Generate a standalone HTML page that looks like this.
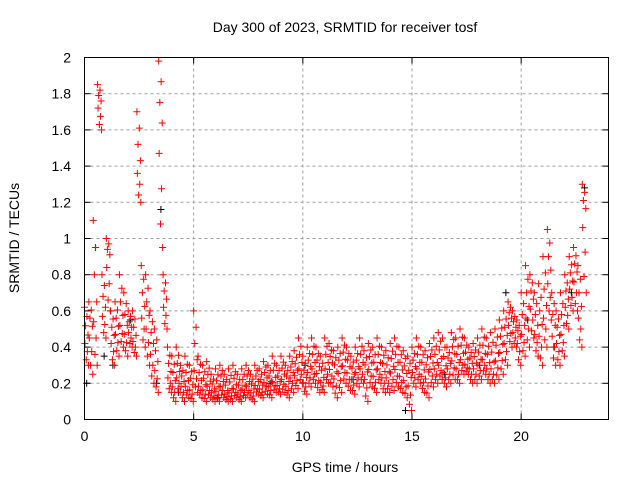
<!DOCTYPE html>
<html><head><meta charset="utf-8"><style>
html,body{margin:0;padding:0;background:#fff;}
svg{display:block;font-family:"Liberation Sans",sans-serif;}
</style></head><body>
<svg id="chart" width="640" height="480" xmlns="http://www.w3.org/2000/svg">
<rect width="640" height="480" fill="#fff"/>
<text x="345" y="32" font-size="14" text-anchor="middle">Day 300 of 2023, SRMTID for receiver tosf</text>
<text transform="translate(19,238) rotate(-90)" font-size="14" text-anchor="middle">SRMTID / TECUs</text>
<text x="345" y="472" font-size="14" text-anchor="middle">GPS time / hours</text>
<g id="grid"></g><g id="ticks"></g><g id="marks"></g>
<rect x="84.5" y="57.5" width="524" height="362" fill="none" stroke="#000"/>
</svg>
<script>
const xTicks=[0,5,10,15,20];
const yTicks=[0,0.2,0.4,0.6,0.8,1,1.2,1.4,1.6,1.8,2];
const times=[0,0.2,0.4,0.6,0.8,1.0,1.2,1.4,1.6,1.8,2.0,2.2,2.4,2.6,2.8,3.0,3.2,3.4,3.6,3.8,4.0,4.2,4.4,4.6,4.8,5.0,5.2,5.4,5.6,5.8,6.0,6.2,6.4,6.6,6.8,7.0,7.2,7.4,7.6,7.8,8.0,8.2,8.4,8.6,8.8,9.0,9.2,9.4,9.6,9.8,10.0,10.2,10.4,10.6,10.8,11.0,11.2,11.4,11.6,11.8,12.0,12.2,12.4,12.6,12.8,13.0,13.2,13.4,13.6,13.8,14.0,14.2,14.4,14.6,14.8,15.0,15.2,15.4,15.6,15.8,16.0,16.2,16.4,16.6,16.8,17.0,17.2,17.4,17.6,17.8,18.0,18.2,18.4,18.6,18.8,19.0,19.2,19.4,19.6,19.8,20.0,20.2,20.4,20.6,20.8,21.0,21.2,21.4,21.6,21.8,22.0,22.2,22.4,22.6,22.8];
const hiVals=[.62,.65,1.1,1.85,.8,1.0,.6,.65,.8,.7,.6,.6,1.7,.85,.8,.6,.5,1.98,.8,.4,.35,.4,.3,.35,.3,.6,.35,.3,.32,.25,.28,.3,.25,.28,.3,.25,.28,.3,.25,.3,.28,.32,.3,.35,.3,.35,.3,.35,.38,.45,.35,.4,.45,.4,.35,.45,.42,.38,.4,.45,.4,.35,.4,.45,.38,.42,.4,.45,.4,.38,.42,.45,.4,.38,.35,.4,.45,.4,.38,.42,.45,.48,.45,.4,.48,.45,.5,.45,.4,.42,.45,.5,.45,.48,.5,.55,.6,.65,.6,.55,.7,.85,.8,.7,.75,.9,1.05,.7,.6,.7,.8,.9,.95,.85,1.3];
const midVals=[.45,.5,.6,1.75,.6,.9,.45,.5,.55,.5,.5,.45,1.4,.6,.55,.4,.3,1.6,.65,.25,.2,.25,.2,.2,.18,.3,.2,.18,.2,.16,.17,.2,.15,.16,.18,.15,.18,.2,.16,.2,.18,.22,.2,.22,.2,.24,.2,.25,.26,.3,.22,.28,.3,.28,.22,.3,.3,.25,.28,.32,.28,.24,.28,.3,.25,.3,.26,.3,.25,.25,.28,.3,.26,.24,.22,.28,.3,.26,.25,.3,.3,.32,.28,.3,.35,.3,.35,.32,.3,.3,.32,.35,.3,.3,.35,.4,.45,.55,.5,.45,.5,.6,.65,.5,.5,.6,.8,.5,.45,.5,.65,.75,.8,.6,1.15];
const loVals=[.3,.25,.3,1.6,.45,.6,.3,.35,.4,.35,.4,.35,1.2,.4,.3,.2,.15,.95,.5,.15,.1,.15,.1,.12,.1,.15,.12,.1,.12,.1,.1,.12,.1,.1,.12,.1,.12,.12,.1,.14,.12,.14,.12,.15,.14,.15,.12,.15,.17,.2,.14,.18,.2,.15,.15,.2,.18,.12,.15,.2,.16,.14,.18,.2,.1,.18,.15,.2,.15,.15,.16,.18,.15,.12,.05,.18,.2,.15,.12,.18,.2,.22,.18,.2,.22,.2,.25,.25,.2,.2,.22,.25,.2,.2,.22,.25,.3,.4,.4,.3,.35,.4,.45,.35,.3,.4,.55,.3,.3,.35,.5,.6,.6,.4,.7];
const blackTimes=[0.1,0.5,0.9,1.3,2.1,3.3,3.5,4.3,6.1,8.5,10.1,12.3,14.7,16.5,18.1,19.3,20.3,21.5,22.3,22.9];
const blackVals=[.2,.95,.35,.3,.55,.2,1.16,.15,.12,.2,.3,.22,.05,.25,.3,.7,.55,.4,.7,1.28];
const X0=84.5,X1=608.5,Y0=419.5,Y1=57.5;
const xs=t=>X0+(t/24)*(X1-X0);
const ys=v=>Y0-(v/2)*(Y0-Y1);
const NS='http://www.w3.org/2000/svg';
const grid=document.getElementById('grid'),ticks=document.getElementById('ticks'),marks=document.getElementById('marks');
function mk(tag,attrs,parent){const e=document.createElementNS(NS,tag);for(const k in attrs)e.setAttribute(k,attrs[k]);parent.appendChild(e);return e;}
xTicks.forEach(t=>{
  const x=xs(t);
  if(t>0){const g=mk('line',{x1:x,x2:x,y1:Y0,y2:Y1,stroke:'#a0a0a0','stroke-dasharray':'3,3'},grid);
  
  }
  mk('line',{x1:x,x2:x,y1:Y0,y2:Y0-6,stroke:'#000'},ticks);
  mk('line',{x1:x,x2:x,y1:Y1,y2:Y1+6,stroke:'#000'},ticks);
  const l=mk('text',{x:x,y:441,'font-size':14,'text-anchor':'middle'},ticks);l.textContent=t;
  
  
});
yTicks.forEach(v=>{
  const y=ys(v);
  if(v>0&&v<2){const g=mk('line',{x1:X0,x2:X1,y1:y,y2:y,stroke:'#a0a0a0','stroke-dasharray':'3,3'},grid);
  
  }
  mk('line',{x1:X0,x2:X0+6,y1:y,y2:y,stroke:'#000'},ticks);
  mk('line',{x1:X1,x2:X1-6,y1:y,y2:y,stroke:'#000'},ticks);
  const l=mk('text',{x:71,y:y+5,'font-size':14,'text-anchor':'end'},ticks);l.textContent=v;
  
  
});
function plus(t,v,color,name){
  const x=xs(t),y=ys(v);
  const p=mk('path',{d:`M${x-3.5},${y}H${x+3.5}M${x},${y-3.5}V${y+3.5}`,stroke:color,'stroke-width':1,fill:'none'},marks);
  
  
}
blackTimes.forEach((t,i)=>plus(t,blackVals[i],'#000','black-point'));
const fr=[0,0.15,0.3,0.45,0.6,0.75,0.9,1];
const off=[0.0,0.11,0.05,0.16,0.02,0.13,0.08,0.18];
times.forEach((t,i)=>{
  fr.forEach((f,k)=>{
    const a=f<=0.5?hiVals[i]+(midVals[i]-hiVals[i])*(f/0.5):midVals[i]+(loVals[i]-midVals[i])*((f-0.5)/0.5);
    plus(t+off[k],a,'#f00','red-point');
  });
});
</script>
</body></html>
